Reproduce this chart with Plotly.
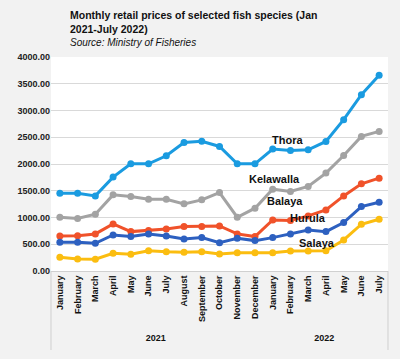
import plotly.graph_objects as go

years = ["2021"] * 12 + ["2022"] * 7
months = ["January", "February", "March", "April", "May", "June", "July", "August",
          "September", "October", "November", "December",
          "January", "February", "March", "April", "May", "June", "July"]

thora = [1455, 1455, 1404, 1755, 2004, 2004, 2154, 2403, 2425, 2328, 2004, 2004,
         2279, 2253, 2266, 2421, 2828, 3296, 3657]
kelawalla = [1005, 980, 1062, 1423, 1392, 1342, 1342, 1255, 1330, 1467, 1005, 1174,
             1530, 1486, 1580, 1830, 2160, 2516, 2609]
balaya = [655, 661, 693, 880, 736, 755, 787, 830, 830, 843, 693, 643,
          955, 942, 1030, 1142, 1404, 1629, 1735]
hurulla = [537, 537, 518, 674, 643, 693, 655, 599, 624, 530, 612, 568,
           624, 693, 768, 736, 905, 1204, 1286]
salaya = [256, 225, 219, 331, 312, 380, 361, 350, 361, 318, 343, 343,
          343, 375, 375, 380, 580, 874, 968]

series = [
    ("Thora", thora, "#1a9be0"),
    ("Kelawalla", kelawalla, "#a3a3a3"),
    ("Balaya", balaya, "#f0522a"),
    ("Hurula", hurulla, "#2d60c0"),
    ("Salaya", salaya, "#fbbd10"),
]

FONT = "Liberation Sans, Arial, sans-serif"

fig = go.Figure()
for name, vals, col in series:
    fig.add_trace(go.Scatter(
        x=[years, months], y=vals, name=name, mode="lines+markers",
        line=dict(color=col, width=3), marker=dict(color=col, size=7),
        showlegend=False, hoverinfo="skip"))

PL, PR, PT, PB = 51, 388, 57, 271
PW, PH = PR - PL, PB - PT

labels = [("Thora", 305, 140), ("Kelawalla", 302, 179),
          ("Balaya", 305, 209), ("Hurula", 328, 226),
          ("Salaya", 337, 251)]
anns = []
for text, px, py in labels:
    anns.append(dict(text="<b>%s</b>" % text, x=(px - PL) / PW, y=(PB - py) / PH,
                     xref="paper", yref="paper", showarrow=False,
                     font=dict(family=FONT, size=11, color="#111111")))

anns.append(dict(text="<b>Monthly retail prices of selected fish species (Jan<br>2021-July 2022)</b>",
                 x=(68 - PL) / PW, y=(PB - 7) / PH, xref="paper", yref="paper",
                 xanchor="left", yanchor="top", showarrow=False, align="left",
                 font=dict(family=FONT, size=10.5, color="#111111")))
anns.append(dict(text="<i>Source: Ministry of Fisheries</i>",
                 x=(68 - PL) / PW, y=(PB - 35) / PH, xref="paper", yref="paper",
                 xanchor="left", yanchor="top", showarrow=False, align="left",
                 font=dict(family=FONT, size=10, color="#111111")))

shapes = []
for xp in (0, 1):
    shapes.append(dict(type="line", xref="paper", yref="paper", x0=xp, x1=xp,
                       y0=0, y1=-(350 - PB) / PH, line=dict(color="#cfcfcf", width=1)))

fig.update_layout(
    width=400, height=359,
    margin=dict(l=PL, r=400 - PR, t=PT, b=359 - PB),
    paper_bgcolor="#f2f2f2", plot_bgcolor="#ffffff",
    font=dict(family=FONT, color="#111111"),
    annotations=anns, shapes=shapes,
    yaxis=dict(range=[0, 4000], dtick=500, tickformat=".2f", showgrid=True,
               gridcolor="#d9d9d9", gridwidth=1, zeroline=False, showline=False,
               tickfont=dict(size=9, color="#222222", weight="bold"), ticks=""),
    xaxis=dict(type="multicategory", tickangle=-90, showgrid=False,
               showline=True, linecolor="#d0d0d0", linewidth=1,
               showdividers=False,
               tickfont=dict(size=9, color="#111111", weight="bold"), ticks="",
               range=[-0.5, 18.5]),
)

fig.write_html("out.html", config={"displayModeBar": False},
               post_script="document.body.style.margin='0';")
